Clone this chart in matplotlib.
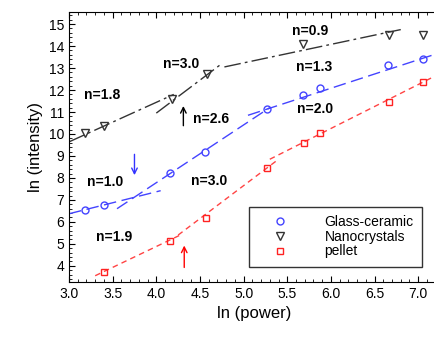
import numpy as np
import matplotlib
matplotlib.use("Agg")
import matplotlib.pyplot as plt
from matplotlib.ticker import MultipleLocator

plt.rcParams['font.family'] = ['Liberation Sans', 'DejaVu Sans']

# measured points
gc_x = [3.18, 3.40, 4.16, 4.56, 5.27, 5.68, 5.88, 6.65, 7.06]
gc_y = [6.55, 6.77, 8.23, 9.18, 11.12, 11.77, 12.09, 13.14, 13.40]
nc_x = [3.18, 3.40, 4.18, 4.58, 5.68, 6.66, 7.06]
nc_y = [10.05, 10.36, 11.59, 12.73, 14.10, 14.50, 14.50]
pe_x = [3.40, 4.16, 4.57, 5.27, 5.69, 5.88, 6.66, 7.06]
pe_y = [3.73, 5.14, 6.18, 8.45, 9.60, 10.05, 11.45, 12.36]

# fitted segments: (x0, x1, y0, y1)
gc_fits = [(3.0, 4.05, 6.37, 7.42), (3.55, 5.30, 6.60, 11.20), (5.05, 7.25, 10.85, 13.70)]
nc_fits = [(3.0, 4.20, 9.64, 11.80), (4.00, 4.75, 10.95, 13.20), (4.78, 6.80, 13.05, 14.75)]
pe_fits = [(3.30, 4.30, 3.55, 5.45), (4.25, 5.40, 5.40, 8.85), (5.30, 7.25, 8.85, 12.75)]

labels = [("n=1.8", 3.38, 11.77), ("n=3.0", 4.28, 13.2), ("n=2.6", 4.63, 10.7),
          ("n=0.9", 5.76, 14.7), ("n=1.3", 5.81, 13.05), ("n=2.0", 5.82, 11.14),
          ("n=1.0", 3.41, 7.82), ("n=3.0", 4.60, 7.86), ("n=1.9", 3.52, 5.32)]

fig = plt.figure(figsize=(4.35, 3.38), dpi=100)
ax = fig.add_axes([0.1586, 0.166, 0.853, 0.7985])

for x0, x1, y0, y1 in gc_fits:
    ax.plot([x0, x1], [y0, y1], color='#4444ff', lw=1, dashes=(9, 4))
for x0, x1, y0, y1 in nc_fits:
    ax.plot([x0, x1], [y0, y1], color='#333333', lw=1, dashes=(12, 3, 2, 3))
for x0, x1, y0, y1 in pe_fits:
    ax.plot([x0, x1], [y0, y1], color='#ff4444', lw=1, dashes=(4, 3))

ax.plot(gc_x, gc_y, 'o', mfc='none', mec='#4444ff', ms=5, mew=1, label='Glass-ceramic')
ax.plot(nc_x, nc_y, 'v', mfc='none', mec='#333333', ms=6, mew=1, label='Nanocrystals')
ax.plot(pe_x, pe_y, 's', mfc='none', mec='#ff2222', ms=5, mew=1, label='pellet')

for t, x, y in labels:
    ax.text(x, y, t, fontsize=10, fontweight='bold', ha='center', va='center')

ax.annotate('', xy=(3.75, 8.0), xytext=(3.75, 9.2),
            arrowprops=dict(arrowstyle='->', color='#3333ff', lw=1))
ax.annotate('', xy=(4.31, 11.4), xytext=(4.31, 10.25),
            arrowprops=dict(arrowstyle='->', color='black', lw=1))
ax.annotate('', xy=(4.32, 5.05), xytext=(4.32, 3.8),
            arrowprops=dict(arrowstyle='->', color='red', lw=1))

ax.set_xlim(3.0, 7.25)
ax.set_ylim(3.27, 15.55)
ax.xaxis.set_major_locator(MultipleLocator(0.5))
ax.xaxis.set_minor_locator(MultipleLocator(0.1))
ax.yaxis.set_major_locator(MultipleLocator(1))
ax.yaxis.set_minor_locator(MultipleLocator(0.2))
ax.set_xticks(np.arange(3.0, 7.01, 0.5))
ax.set_xticklabels([f"{v:.1f}" for v in np.arange(3.0, 7.01, 0.5)])
ax.set_yticks(range(4, 16))
ax.tick_params(which='both', direction='in', top=True, right=True, labelsize=10)
ax.tick_params(which='major', length=4)
ax.tick_params(which='minor', length=2)
ax.set_xlabel('ln (power)', fontsize=12)
ax.set_ylabel('ln (intensity)', fontsize=12)

leg = ax.legend(loc='lower right', bbox_to_anchor=(0.951, 0.056), fontsize=10,
                fancybox=False, edgecolor='black', handletextpad=1.6,
                borderpad=0.6, borderaxespad=0, labelspacing=0.05,
                handlelength=3.2)
leg.get_frame().set_linewidth(1)

fig.savefig('out.png', dpi=100)
